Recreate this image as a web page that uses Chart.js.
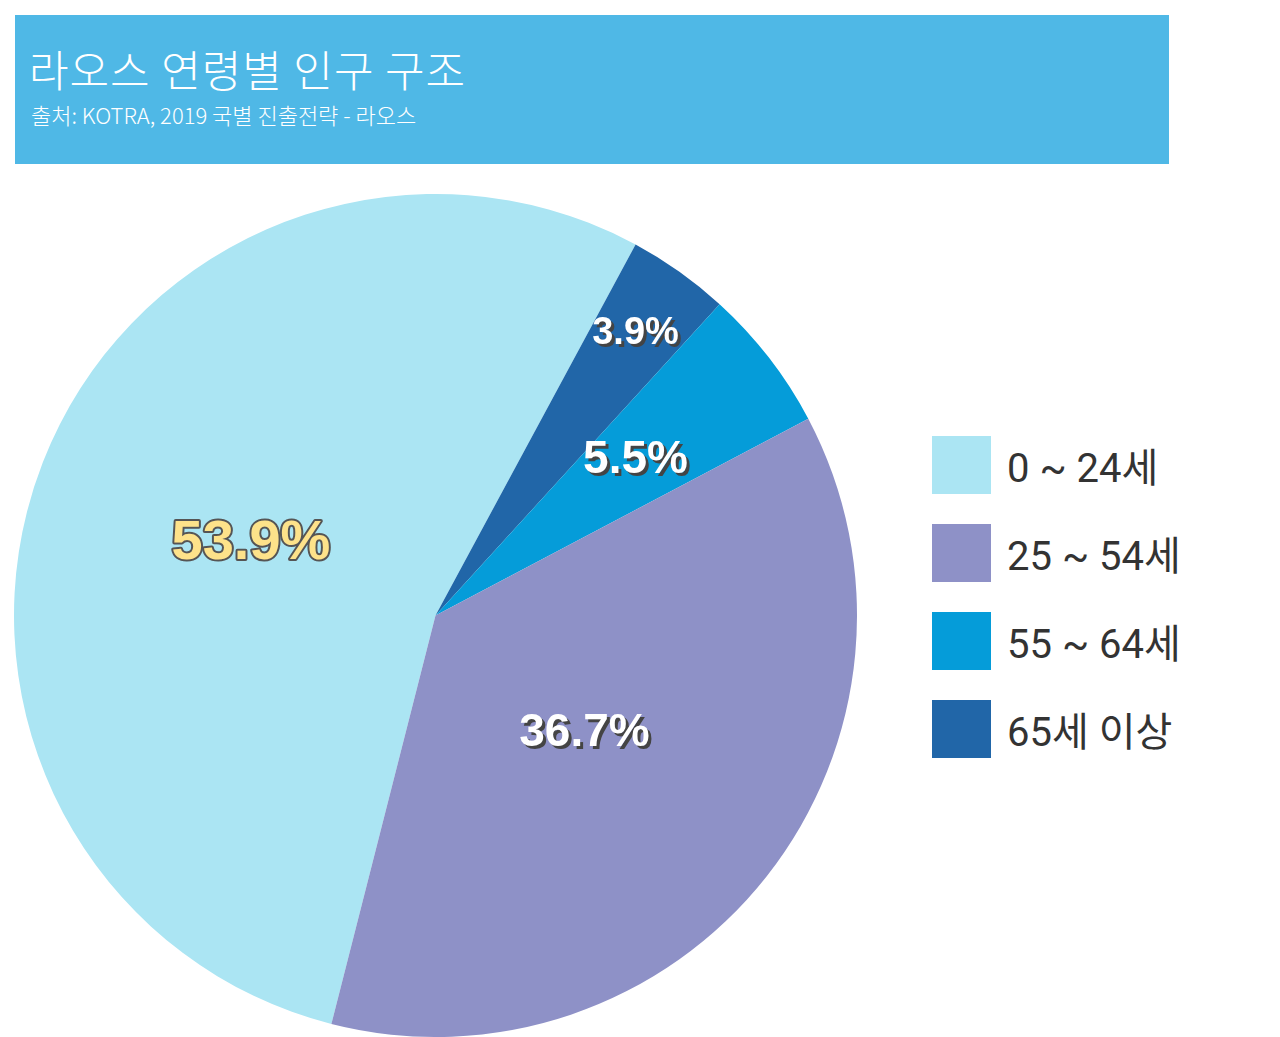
<!DOCTYPE html>
<html><head><meta charset="utf-8">
<script src="https://cdn.jsdelivr.net/npm/chart.js@4"></script>
<style>
body{margin:0;background:#fff;width:1280px;height:1037px;position:relative;overflow:hidden;font-family:"Noto Sans CJK KR",sans-serif}
#banner{position:absolute;left:15px;top:15px;width:1154px;height:149px;background:#4fb8e6}
#t1{position:absolute;left:14px;top:22px;color:#fff;font-size:43px;font-weight:300;letter-spacing:1px}
#t2{position:absolute;left:16px;top:83px;color:#fff;font-size:22px;font-weight:300}
#wrap{position:absolute;left:14px;top:194px;width:843px;height:843px}
#legend{position:absolute;left:932px;top:436px}
.li{display:flex;align-items:center;height:58px;margin-bottom:30px}
.sw{width:59px;height:58px;margin-right:16px}
.lt{font-family:Roboto,"Noto Sans CJK KR",sans-serif;font-size:40px;color:#333;font-weight:400}
</style></head><body>
<div id="banner"><div id="t1">라오스 연령별 인구 구조</div><div id="t2">출처: KOTRA, 2019 국별 진출전략 - 라오스</div></div>
<div id="wrap"><canvas id="c"></canvas></div>
<div id="legend"></div>
<script>
const categories=["0 ~ 24세","25 ~ 54세","55 ~ 64세","65세 이상"];
const values=[53.9,36.7,5.5,3.9];
const colors=["#abe5f3","#8e91c7","#059cd9","#2166a8"];
// drawing order (clockwise): 0~24, 65+, 55~64, 25~54
const order=[0,3,2,1];
const labelStyle={0:{size:56,fill:"#fde28a",stroke:"#555"},1:{size:46,fill:"#fff"},2:{size:46,fill:"#fff"},3:{size:38,fill:"#fff"}};
const labelPos={0:0.47,1:0.45,2:0.6,3:0.82};
const lg=document.getElementById('legend');
categories.forEach((c,i)=>{lg.innerHTML+=`<div class="li"><div class="sw" style="background:${colors[i]}"></div><div class="lt">${c}</div></div>`;});
const pl={id:'lbl',afterDatasetsDraw(ch){const ctx=ch.ctx;const meta=ch.getDatasetMeta(0);
meta.data.forEach((arc,k)=>{const i=order[k];const a=(arc.startAngle+arc.endAngle)/2;const r=arc.outerRadius*labelPos[i];
const x=arc.x+Math.cos(a)*r,y=arc.y+Math.sin(a)*r;const s=labelStyle[i];const t=values[i].toFixed(1)+"%";
ctx.save();ctx.font=`bold ${s.size}px "Liberation Sans",Arial,sans-serif`;ctx.textAlign='center';ctx.textBaseline='middle';
if(s.stroke){ctx.lineWidth=4;ctx.strokeStyle=s.stroke;ctx.lineJoin='round';ctx.strokeText(t,x,y);ctx.fillStyle=s.fill;ctx.fillText(t,x,y);}
else{ctx.fillStyle='#444';ctx.fillText(t,x+3,y+3);ctx.fillStyle=s.fill;ctx.fillText(t,x,y);}
ctx.restore();});}};
new Chart(document.getElementById('c'),{type:'pie',
data:{labels:order.map(i=>categories[i]),datasets:[{data:order.map(i=>values[i]),backgroundColor:order.map(i=>colors[i]),borderWidth:0}]},
options:{responsive:true,maintainAspectRatio:false,animation:false,rotation:194.3,layout:{padding:0},
plugins:{legend:{display:false},tooltip:{enabled:false}}},plugins:[pl]});
</script></body></html>
